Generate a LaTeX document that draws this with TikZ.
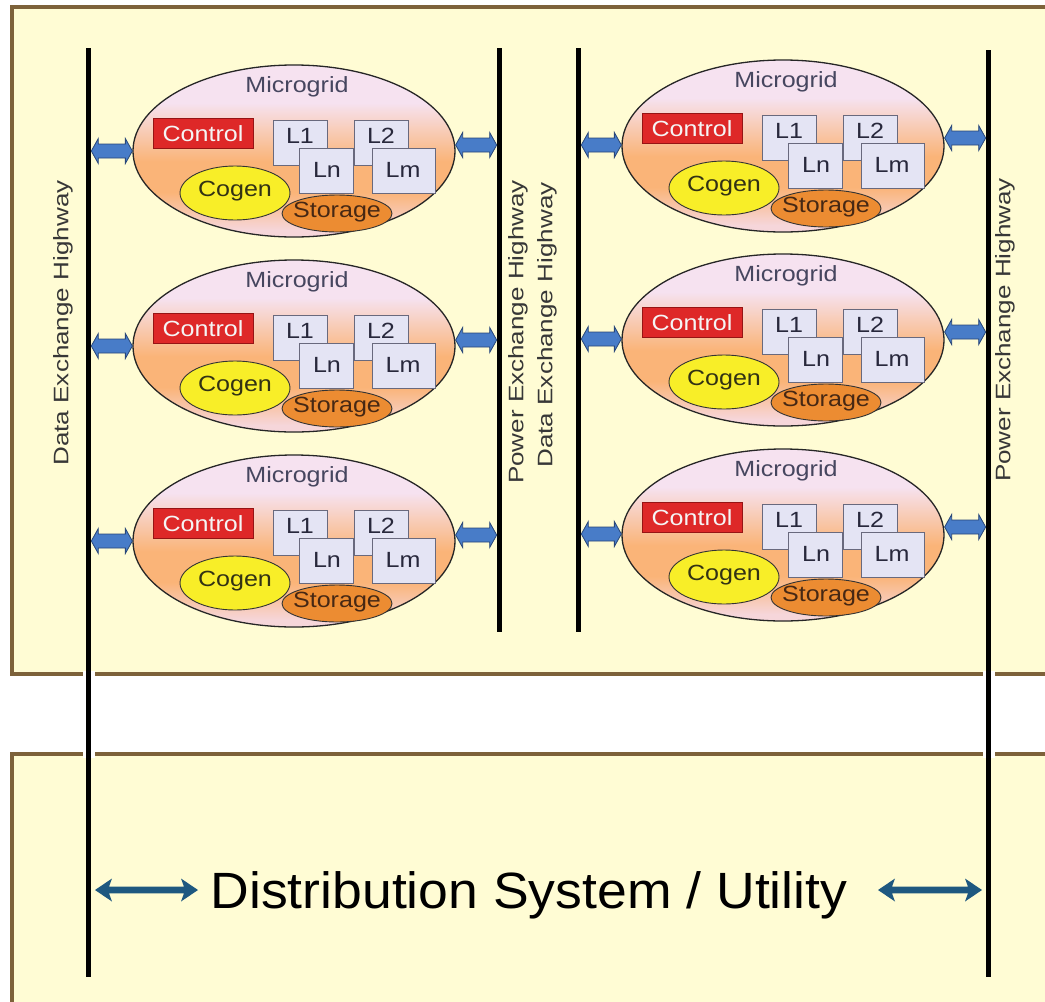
\documentclass[tikz,border=0pt]{standalone}
\usepackage{fontspec}
\setmainfont{Liberation Sans}
\usetikzlibrary{shapes.geometric,calc}
\definecolor{panel}{RGB}{255,252,212}
\definecolor{pbrown}{RGB}{125,98,58}
\definecolor{mgt}{RGB}{246,226,240}
\definecolor{mgo}{RGB}{250,180,120}
\definecolor{mgb}{RGB}{246,214,218}
\definecolor{ctlred}{RGB}{222,40,40}
\definecolor{boxfill}{RGB}{228,228,244}
\definecolor{boxline}{RGB}{105,105,125}
\definecolor{cogenc}{RGB}{248,238,40}
\definecolor{storc}{RGB}{236,140,50}
\definecolor{arrblue}{RGB}{72,124,200}
\definecolor{arrdark}{RGB}{40,70,120}
\definecolor{tealc}{RGB}{30,88,128}
\definecolor{mgtextc}{RGB}{70,70,95}
\definecolor{hwgray}{RGB}{55,55,55}
\pgfdeclareverticalshading{mgshade}{100bp}{color(0bp)=(mgb); color(27bp)=(mgb); color(38bp)=(mgo); color(47bp)=(mgo); color(64bp)=(mgt); color(100bp)=(mgt)}
\newcommand\mgtxt[1]{\scalebox{1.14}[1]{\fontsize{22}{24}\selectfont #1}}
\newcommand\hwtxt[1]{\scalebox{1.24}[1]{\fontsize{21}{23}\selectfont #1}}
% double arrow polygon: #1 style, #2 left point (gives y), #3 right point, #4 head length, #5 head half, #6 shaft half, #7 inset
\newcommand\dbl[7]{%
  \path[#1] let \p1=(#2), \p2=(#3) in
   (\x1,\y1) -- ({\x1+#4},{\y1+#5}) -- ({\x1+#7},{\y1+#6}) -- ({\x2-#7},{\y1+#6})
   -- ({\x2-#4},{\y1+#5}) -- (\x2,\y1) -- ({\x2-#4},{\y1-#5}) -- ({\x2-#7},{\y1-#6})
   -- ({\x1+#7},{\y1-#6}) -- ({\x1+#4},{\y1-#5}) -- cycle;}
\newcommand\microgrid[3]{%
  \node[mgell] (#1) at (#2,#3) {};
  \begin{scope}[shift={(#2,#3)}]
    \node[mglabel] (#1-t) at (3,-64) {\mgtxt{Microgrid}};
    \node[ctlbox] (#1-ctl) at (-91,-18) {};
    \node[text=white!92!gray] (#1-ctlt) at (-91,-17) {\mgtxt{Control}};
    \node[lbox, minimum width=54pt] (#1-l1) at (6,-8.5) {};
    \node[ltext] (#1-l1t) at (6,-15) {\mgtxt{L1}};
    \node[lbox, minimum width=54pt] (#1-l2) at (87.5,-8.5) {};
    \node[ltext] (#1-l2t) at (87,-15) {\mgtxt{L2}};
    \node[lbox, minimum width=54pt] (#1-ln) at (32.5,19.5) {};
    \node[ltext] (#1-lnt) at (33,19) {\mgtxt{Ln}};
    \node[lbox, minimum width=63pt] (#1-lm) at (109.5,19.5) {};
    \node[ltext] (#1-lmt) at (109,19) {\mgtxt{Lm}};
    \node[ellipse, draw=black!80, line width=0.9pt, fill=cogenc, minimum width=110pt, minimum height=54pt, inner sep=0pt] (#1-cg) at (-59,42) {};
    \node[text={rgb,255:red,50;green,50;blue,20}] (#1-cgt) at (-59,40) {\mgtxt{Cogen}};
    \node[ellipse, draw=black!80, line width=0.9pt, fill=storc, minimum width=110pt, minimum height=37pt, inner sep=0pt] (#1-st) at (43,62.5) {};
    \node[text={rgb,255:red,70;green,40;blue,20}] (#1-stt) at (43,61.5) {\mgtxt{Storage}};
  \end{scope}}
\begin{document}
\begin{tikzpicture}[x=1pt,y=-1pt,
  pborder/.style={draw=pbrown, line width=4pt},
  hwy/.style={draw=black, line width=5.5pt},
  mgell/.style={ellipse, draw=black!85, line width=1.3pt, shading=mgshade, minimum width=322pt, minimum height=172pt, inner sep=0pt},
  mglabel/.style={text=mgtextc, inner sep=0pt},
  ctlbox/.style={draw={rgb,255:red,150;green,20;blue,20}, line width=0.8pt, fill=ctlred, minimum width=100pt, minimum height=30pt, inner sep=0pt},
  lbox/.style={draw=boxline, line width=1pt, fill=boxfill, minimum height=45pt, inner sep=0pt},
  ltext/.style={text={rgb,255:red,40;green,40;blue,60}, inner sep=0pt},
  sidearr/.style={fill=arrblue, draw=arrdark, line width=0.8pt},
  bottarr/.style={fill=tealc},
  hwlabel/.style={rotate=90, text=hwgray, inner sep=0pt}
]
\useasboundingbox (0,0) rectangle (1045,1002);
\fill[white] (0,0) rectangle (1045,1002);
% panels
\fill[panel] (12,7) rectangle (1050,674);
\draw[pborder] (1050,7) -- (12,7) -- (12,674) -- (1050,674);
\fill[panel] (12,754) rectangle (1050,1008);
\draw[pborder] (1050,754) -- (12,754) -- (12,1008);
% gaps in the brown borders where the highways cross
\foreach \xx in {88.5,988.5}{
  \fill[white] ({\xx-6},671) rectangle ({\xx+6},677.5);
  \fill[white] ({\xx-6},750.5) rectangle ({\xx+6},757.5);
}
% highway lines
\coordinate (At) at (88.5,48);  \coordinate (Ab) at (88.5,977);
\coordinate (Bt) at (499.5,48); \coordinate (Bb) at (499.5,632);
\coordinate (Ct) at (578.5,48); \coordinate (Cb) at (578.5,632);
\coordinate (Dt) at (988.5,50); \coordinate (Db) at (988.5,977);
\draw[hwy] (At) -- (Ab);
\draw[hwy] (Bt) -- (Bb);
\draw[hwy] (Ct) -- (Cb);
\draw[hwy] (Dt) -- (Db);
\coordinate (Ar) at (91.3,0);
\coordinate (Bl) at (496.7,0);
\coordinate (Cr) at (581.3,0);
\coordinate (Dl) at (985.7,0);
% labels
\node[hwlabel] (labA) at (63,323) {\hwtxt{Data Exchange Highway}};
\node[hwlabel] (labB) at (518,332) {\hwtxt{Power Exchange Highway}};
\node[hwlabel] (labC) at (547,325) {\hwtxt{Data Exchange Highway}};
\node[hwlabel] (labD) at (1005,330) {\hwtxt{Power Exchange Highway}};
% microgrids
\microgrid{m1}{294}{151}
\microgrid{m2}{294}{346}
\microgrid{m3}{294}{541}
\microgrid{m4}{783}{146}
\microgrid{m5}{783}{340}
\microgrid{m6}{783}{535}
% side arrows
\foreach \m in {m1,m2,m3}{
  \dbl{sidearr}{\m.west -| Ar}{\m.west}{7pt}{12.5pt}{7pt}{7pt}
  \dbl{sidearr}{[yshift=6pt]\m.east}{Bl}{7pt}{12.5pt}{7pt}{7pt}
}
\foreach \m in {m4,m5,m6}{
  \dbl{sidearr}{[yshift=1pt]\m.west -| Cr}{\m.west}{7pt}{12.5pt}{7pt}{7pt}
  \dbl{sidearr}{[yshift=8pt]\m.east}{Dl}{7pt}{12.5pt}{7pt}{7pt}
}
% bottom
\node[anchor=base, inner sep=0pt] (dist) at (529,908) {\scalebox{1.05}[1]{\fontsize{51}{56}\selectfont Distribution System / Utility}};
\coordinate (dl1) at (95,890);  \coordinate (dl2) at (198,890);
\coordinate (dr1) at (878,890); \coordinate (dr2) at (982,890);
\dbl{bottarr}{dl1}{dl2}{17pt}{11.5pt}{3.3pt}{14pt}
\dbl{bottarr}{dr1}{dr2}{17pt}{11.5pt}{3.3pt}{14pt}
\end{tikzpicture}
\end{document}
